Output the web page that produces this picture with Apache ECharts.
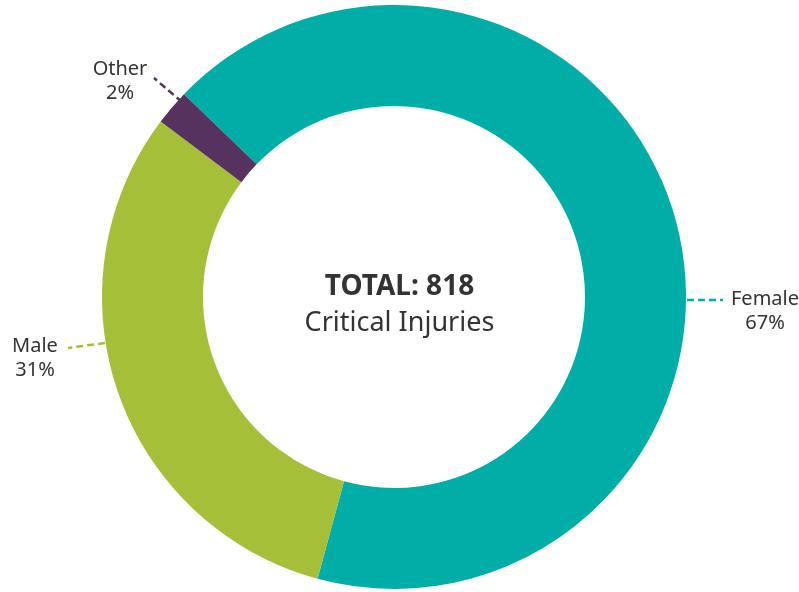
<!DOCTYPE html>
<html>
<head>
<meta charset="utf-8">
<script src="https://cdn.jsdelivr.net/npm/echarts@6/dist/echarts.min.js"></script>
<style>
  html, body { margin: 0; padding: 0; background: #fff; }
  #donut { width: 799px; height: 592px; }
</style>
</head>
<body>
<div id="donut"></div>
<script>
// categories and values (total 818)
var categories = ['Female', 'Male', 'Other'];
var counts = [548, 254, 16];
var colors = ['#00ADA7', '#A5BF38', '#56325F'];
var total = 818;

// where each label sits and where its dashed leader goes
var labelSpots = [
    { x: 765, y: 311, line: [[687, 300], [705, 300], [723, 300]] },
    { x: 35, y: 358, line: [[105, 343], [86, 345.5], [68, 348]] },
    { x: 120, y: 81, line: [[182, 102], [168, 90], [154, 78]] }
];

var myChart = echarts.init(document.getElementById('donut'));
var pieData = [];
for (var i = 0; i < categories.length; i++) {
    pieData.push({
        name: categories[i],
        value: counts[i],
        itemStyle: { color: colors[i] },
        labelLine: { lineStyle: { color: colors[i], width: 2.5, type: [7, 4] } }
    });
}

var option = {
    animation: false,
    graphic: [
        {
            type: 'text',
            left: 'center',
            top: 273,
            style: {
                text: 'TOTAL: ' + total,
                font: 'bold 28px "Noto Sans"',
                fill: '#333333'
            }
        },
        {
            type: 'text',
            left: 'center',
            top: 310,
            style: {
                text: 'Critical Injuries',
                font: '27px "Noto Sans"',
                fill: '#333333'
            }
        }
    ],
    series: [
        {
            type: 'pie',
            center: [394, 297],
            radius: [191, 292],
            startAngle: 136,
            clockwise: true,
            data: pieData,
            label: {
                show: true,
                formatter: function (p) {
                    return p.name + '\n' + Math.round(p.value / total * 100) + '%';
                },
                fontFamily: 'Noto Sans',
                fontSize: 20,
                lineHeight: 24,
                color: '#333333',
                align: 'center',
                overflow: 'none'
            },
            labelLine: {
                show: true,
                lineStyle: { width: 2.5, type: [7, 4] }
            },
            labelLayout: function (params) {
                var s = labelSpots[params.dataIndex];
                return {
                    x: s.x,
                    y: s.y,
                    align: 'center',
                    verticalAlign: 'middle',
                    labelLinePoints: s.line
                };
            },
            emphasis: { disabled: true }
        }
    ]
};

myChart.setOption(option);
</script>
</body>
</html>
